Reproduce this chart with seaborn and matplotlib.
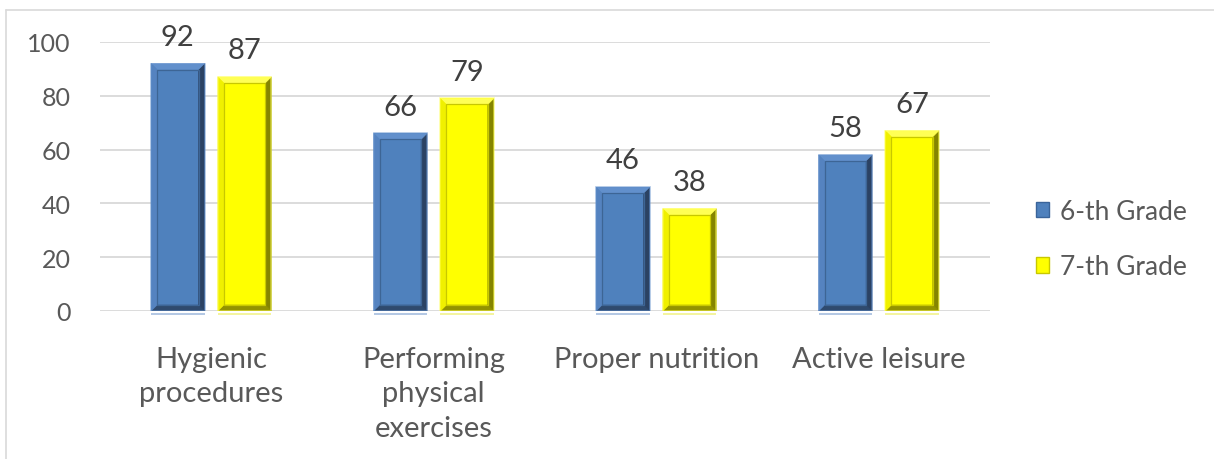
import numpy as np
import pandas as pd
import matplotlib
matplotlib.use("Agg")
import matplotlib.pyplot as plt
from matplotlib.patches import Polygon, Patch
from matplotlib.lines import Line2D
import seaborn as sns

categories = ["Hygienic\nprocedures", "Performing\nphysical\nexercises",
              "Proper nutrition", "Active leisure"]
grade6 = [92, 66, 46, 58]
grade7 = [87, 79, 38, 67]
series_names = ["6-th Grade", "7-th Grade"]
y_ticks = [0, 20, 40, 60, 80, 100]

BLUE = "#4f81bd"
YELLOW = "#ffff00"
# bevel shades per series: top, left, right, bottom, inner edge line, reflection
BEVELS = {
    BLUE: ("#6290cc", "#5583c0", "#2b4263", "#2f4a6e", "#3d6595", "#b4c8e4"),
    YELLOW: ("#ffff55", "#f0f000", "#858500", "#939300", "#c8c800", "#f4f4a0"),
}
TEXT = "#595959"

df = pd.DataFrame({
    "category": categories * 2,
    "value": grade6 + grade7,
    "grade": [series_names[0]] * 4 + [series_names[1]] * 4,
})

sns.set_theme(style="white")
plt.rcParams["font.family"] = ["Lato", "DejaVu Sans"]

fig = plt.figure(figsize=(12.14, 4.6), dpi=100)
ax = fig.add_axes([100 / 1214, 1 - 312 / 460, 890 / 1214, 269 / 460])

sns.barplot(data=df, x="category", y="value", hue="grade",
            palette=[BLUE, YELLOW], width=0.6, gap=0.2, ax=ax,
            legend=False, linewidth=0, saturation=1)

ax.set_ylim(0, 100)
ax.set_xlim(-0.5, len(categories) - 0.5)
ax.set_yticks(y_ticks)
ax.yaxis.grid(True, color="#d9d9d9", lw=1.3)
ax.set_axisbelow(True)
for s in ax.spines.values():
    s.set_visible(False)
ax.set_xlabel("")
ax.set_ylabel("")
ax.tick_params(axis="y", length=0, pad=21, labelsize=18, labelcolor=TEXT)
ax.tick_params(axis="x", length=0, pad=25, labelsize=21, labelcolor=TEXT)
for lab in ax.get_xticklabels():
    lab.set_linespacing(1.4)

# bevel overlay on each bar, bevel width given in pixels
fig.canvas.draw()
inv = ax.transData.inverted()
bev_px = 6
for cont in ax.containers:
    for p in cont.patches:
        x0, y0 = p.get_x(), p.get_y()
        x1, y1 = x0 + p.get_width(), y0 + p.get_height()
        dx0, dy0 = ax.transData.transform((x0, y0))
        dx1, dy1 = ax.transData.transform((x1, y1))
        face = matplotlib.colors.to_hex(p.get_facecolor())
        top, left, right, bottom, inner, refl = BEVELS[face]
        ox = [(dx0, dy0), (dx1, dy0), (dx1, dy1), (dx0, dy1)]
        ix = [(dx0 + bev_px, dy0 + bev_px), (dx1 - bev_px, dy0 + bev_px),
              (dx1 - bev_px, dy1 - bev_px), (dx0 + bev_px, dy1 - bev_px)]
        ox = inv.transform(ox)
        ix = inv.transform(ix)
        sides = [
            ([ox[0], ox[1], ix[1], ix[0]], bottom),
            ([ox[1], ox[2], ix[2], ix[1]], right),
            ([ox[2], ox[3], ix[3], ix[2]], top),
            ([ox[3], ox[0], ix[0], ix[3]], left),
        ]
        z = p.get_zorder()
        for pts, col in sides:
            ax.add_patch(Polygon(pts, closed=True, facecolor=col,
                                 edgecolor=col, lw=0.3, zorder=z + 0.1))
        ax.add_patch(Polygon(ix, closed=True, facecolor="none",
                             edgecolor=inner, lw=0.9, zorder=z + 0.2))
        ax.add_patch(Polygon(ox, closed=True, facecolor="none",
                             edgecolor=matplotlib.colors.to_rgba(top, 0.55),
                             lw=1.2, zorder=z + 0.3))
        # faint reflection just under the base line
        rf = inv.transform([(dx0, dy0 - 2), (dx1, dy0 - 2),
                            (dx1, dy0 - 4), (dx0, dy0 - 4)])
        ax.add_patch(Polygon(rf, closed=True, facecolor=refl, edgecolor="none",
                             zorder=z + 0.3, clip_on=False))

for cont in ax.containers:
    ax.bar_label(cont, fmt="%d", padding=10, fontsize=21, color="#404040")

handles = [Patch(facecolor=BLUE, edgecolor="#3a649a", lw=1),
           Patch(facecolor=YELLOW, edgecolor="#c8c800", lw=1)]
fig.legend(handles, series_names, loc="center left",
           bbox_to_anchor=(1012 / 1214, 1 - 240 / 460), frameon=False,
           fontsize=19, labelcolor=TEXT, handlelength=0.52, handleheight=0.52,
           handletextpad=0.4, labelspacing=1.15)

# thin frame along the top and left edges
fig.add_artist(Line2D([6 / 1214, 6 / 1214], [0, 1 - 11 / 460],
                      color="#d9d9d9", lw=1.2, transform=fig.transFigure))
fig.add_artist(Line2D([6 / 1214, 1], [1 - 11 / 460, 1 - 11 / 460],
                      color="#d9d9d9", lw=1.2, transform=fig.transFigure))

fig.savefig("out.png", dpi=100)
